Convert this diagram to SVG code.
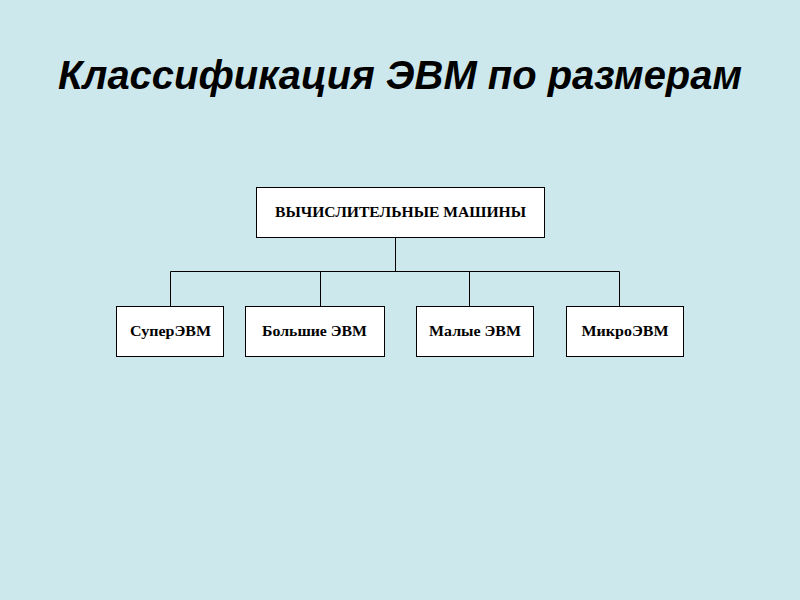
<svg xmlns="http://www.w3.org/2000/svg" width="800" height="600" viewBox="0 0 800 600">
<style>
.box{fill:#fff;stroke:#000;stroke-width:1}
.lbl{font-family:"Liberation Serif","Times New Roman",serif;font-weight:bold;font-size:15px;text-anchor:middle;fill:#000}
.ttl{font-family:"Liberation Sans",Arial,sans-serif;font-weight:bold;font-style:italic;font-size:40px;text-anchor:middle;fill:#000}
.con{stroke:#000;stroke-width:1;fill:none}
</style>
<rect width="800" height="600" fill="#cde8ec"/>
<text class="ttl" x="400" y="89" textLength="684" lengthAdjust="spacingAndGlyphs">Классификация ЭВМ по размерам</text>
<g id="connectors">
<path class="con" d="M395.5 237V271.5M170.5 271.5H619.5M170.5 271.5V306M320.5 271.5V306M469.5 271.5V306M619.5 271.5V306"/>
</g>
<g id="n-root"><rect class="box" x="256.5" y="187.5" width="288" height="50"/><text class="lbl" x="400.5" y="217" textLength="251" lengthAdjust="spacingAndGlyphs">ВЫЧИСЛИТЕЛЬНЫЕ МАШИНЫ</text></g>
<g id="n-super"><rect class="box" x="116.5" y="306.5" width="107" height="50"/><text class="lbl" x="170.5" y="336" textLength="81" lengthAdjust="spacingAndGlyphs">СуперЭВМ</text></g>
<g id="n-big"><rect class="box" x="245.5" y="306.5" width="139" height="50"/><text class="lbl" x="314.5" y="336" textLength="105" lengthAdjust="spacingAndGlyphs">Большие ЭВМ</text></g>
<g id="n-small"><rect class="box" x="416.5" y="306.5" width="117" height="50"/><text class="lbl" x="475" y="336" textLength="92" lengthAdjust="spacingAndGlyphs">Малые ЭВМ</text></g>
<g id="n-micro"><rect class="box" x="566.5" y="306.5" width="117" height="50"/><text class="lbl" x="625" y="336" textLength="87" lengthAdjust="spacingAndGlyphs">МикроЭВМ</text></g>
</svg>
